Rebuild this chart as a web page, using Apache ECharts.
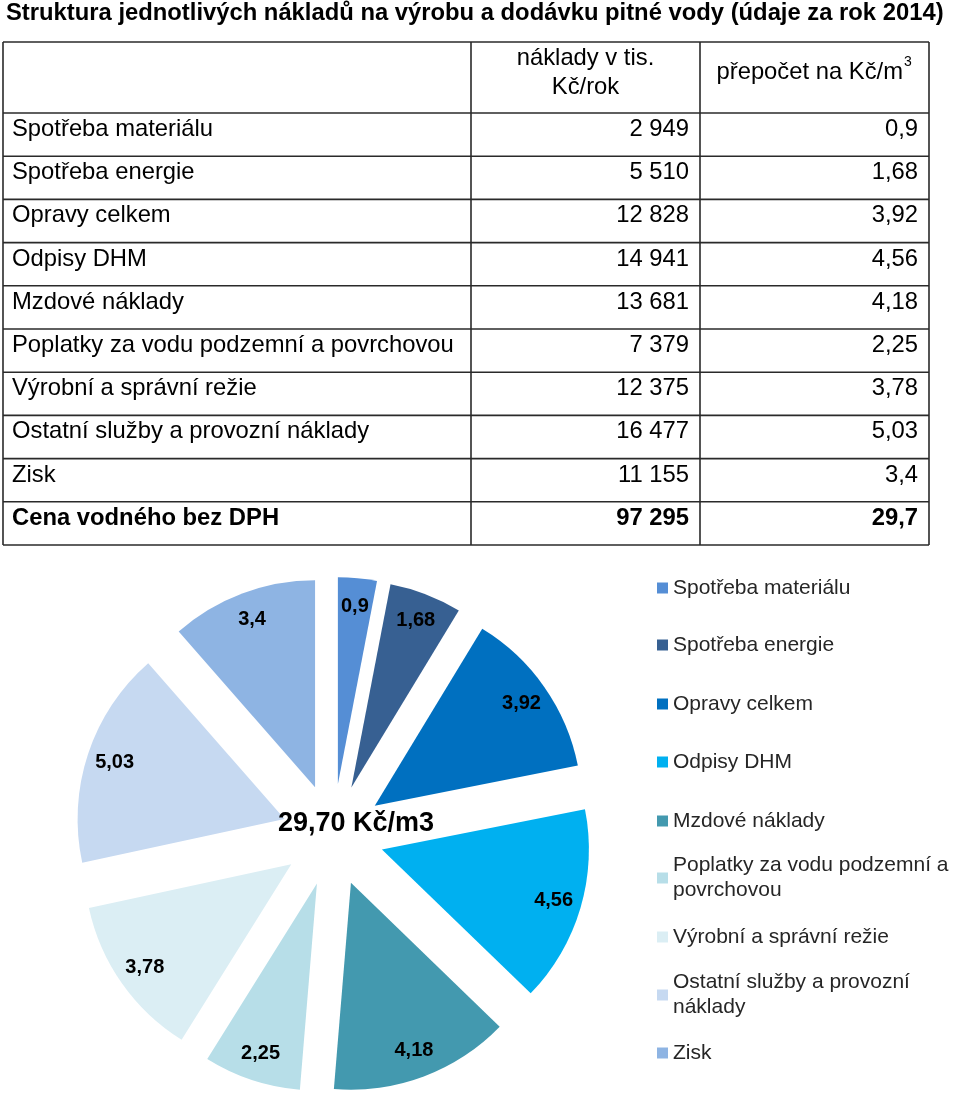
<!DOCTYPE html>
<html>
<head>
<meta charset="utf-8">
<script src="https://cdn.jsdelivr.net/npm/echarts@6/dist/echarts.min.js"></script>
<style>
  html, body { margin: 0; padding: 0; background: #fff; }
  #chart { width: 960px; height: 1094px; }
</style>
</head>
<body>
<div id="chart"></div>
<script>
// ---------- DATA ----------
const titleText = 'Struktura jednotlivých nákladů na výrobu a dodávku pitné vody (údaje za rok 2014)';
const categories = [
  'Spotřeba materiálu',
  'Spotřeba energie',
  'Opravy celkem',
  'Odpisy DHM',
  'Mzdové náklady',
  'Poplatky za vodu podzemní a povrchovou',
  'Výrobní a správní režie',
  'Ostatní služby a provozní náklady',
  'Zisk'
];
const costThousands = [2949, 5510, 12828, 14941, 13681, 7379, 12375, 16477, 11155];
const perM3 = [0.9, 1.68, 3.92, 4.56, 4.18, 2.25, 3.78, 5.03, 3.4];
const totalName = 'Cena vodného bez DPH';
const totalCost = 97295;
const totalPerM3 = 29.7;
const headerCol2 = ['náklady v tis.', 'Kč/rok'];
const headerCol3 = ['přepočet na Kč/m', '3'];
const legendLabels = [
  'Spotřeba materiálu',
  'Spotřeba energie',
  'Opravy celkem',
  'Odpisy DHM',
  'Mzdové náklady',
  'Poplatky za vodu podzemní a\npovrchovou',
  'Výrobní a správní režie',
  'Ostatní služby a provozní\nnáklady',
  'Zisk'
];
const colors = ['#558ED5', '#376092', '#0070C0', '#00B0F0', '#4399AF', '#B7DEE8', '#DBEEF4', '#C6D9F1', '#8EB4E3'];

// ---------- HELPERS ----------
const FONT = '"Liberation Sans", Arial, sans-serif';
const fmtThousands = n => String(n).replace(/\B(?=(\d{3})+(?!\d))/g, ' ');
const fmtDec = v => String(v).replace('.', ',');

// ---------- TABLE (graphic) ----------
const tX0 = 3, tX1 = 471, tX2 = 700, tX3 = 929;
const tY0 = 42, tHeadBottom = 113, rowH = 43.2;
const nRows = categories.length + 1;
const tY1 = tHeadBottom + rowH * nRows;
const lineStyle = { stroke: '#2a2a2a', lineWidth: 1.6 };
const graphics = [];

function hLine(y) { graphics.push({ type: 'line', shape: { x1: tX0, y1: y, x2: tX3, y2: y }, style: lineStyle, silent: true }); }
function vLine(x) { graphics.push({ type: 'line', shape: { x1: x, y1: tY0, x2: x, y2: tY1 }, style: lineStyle, silent: true }); }
function txt(x, y, text, align, opts) {
  opts = opts || {};
  graphics.push({
    type: 'text', x: x, y: y, silent: true,
    style: {
      text: text, fill: '#000', align: align, verticalAlign: 'middle',
      fontSize: opts.size || 23.8, fontWeight: opts.bold ? 'bold' : 'normal', fontFamily: FONT
    }
  });
}

hLine(tY0); hLine(tHeadBottom);
for (let i = 1; i <= nRows; i++) hLine(tHeadBottom + rowH * i);
[tX0, tX1, tX2, tX3].forEach(vLine);

// header
txt((tX1 + tX2) / 2, 58, headerCol2[0], 'center');
txt((tX1 + tX2) / 2, 87, headerCol2[1], 'center');
txt(903, 72, headerCol3[0], 'right');
txt(904, 62, headerCol3[1], 'left', { size: 14 });

// rows
categories.forEach((c, i) => {
  const yc = tHeadBottom + rowH * i + 16.5;
  txt(12, yc, c, 'left');
  txt(689, yc, fmtThousands(costThousands[i]), 'right');
  txt(918, yc, fmtDec(perM3[i]), 'right');
});
{
  const yc = tHeadBottom + rowH * categories.length + 16.5;
  txt(12, yc, totalName, 'left', { bold: true });
  txt(689, yc, fmtThousands(totalCost), 'right', { bold: true });
  txt(918, yc, fmtDec(totalPerM3), 'right', { bold: true });
}

// centre label of the pie
const pieSum = perM3.reduce((a, b) => a + b, 0);
graphics.push({
  type: 'text', x: 356, y: 824, silent: true, z: 100,
  style: {
    text: pieSum.toFixed(2).replace('.', ',') + ' Kč/m3',
    fill: '#000', align: 'center', verticalAlign: 'middle',
    fontSize: 27, fontWeight: 'bold', fontFamily: FONT
  }
});

// ---------- PIE ----------
const pieCenter = [333, 835];
const pieR = 207;
const explode = 51;

const pieData = categories.map((c, i) => ({ name: c, value: perM3[i], selected: true }));

// ---------- LEGENDS (one per item to keep Excel-like spacing) ----------
const legendCenters = [588, 645, 704, 762, 821, 878, 937, 995, 1053];
const legends = categories.map((c, i) => {
  const twoLines = legendLabels[i].indexOf('\n') >= 0;
  return {
    left: 657,
    top: legendCenters[i] - (twoLines ? 37.5 : 12.5),
    orient: 'vertical',
    padding: 0,
    itemWidth: 11,
    itemHeight: 11,
    icon: 'rect',
    selectedMode: false,
    data: [twoLines ? { name: c, textStyle: { padding: [25, 0, 0, 0] } } : c],
    formatter: name => legendLabels[categories.indexOf(name)],
    textStyle: { fontSize: 21, fontFamily: FONT, color: '#262626', lineHeight: 25 }
  };
});

const chart = echarts.init(document.getElementById('chart'), null, { renderer: 'canvas' });
chart.setOption({
  animation: false,
  color: colors,
  title: {
    text: titleText, left: 6, top: 1, padding: 0,
    textStyle: { fontSize: 23.8, fontWeight: 'bold', fontFamily: FONT, color: '#000' }
  },
  legend: legends,
  graphic: graphics,
  series: [
    {
      type: 'pie',
      center: pieCenter,
      radius: pieR,
      startAngle: 90,
      clockwise: true,
      selectedMode: 'multiple',
      selectedOffset: explode,
      avoidLabelOverlap: false,
      label: { show: false },
      labelLine: { show: false },
      emphasis: { disabled: true },
      select: { itemStyle: { borderWidth: 0 } },
      data: pieData
    },
    {
      type: 'pie',
      center: pieCenter,
      radius: [145, pieR],
      startAngle: 90,
      clockwise: true,
      selectedMode: 'multiple',
      selectedOffset: explode,
      avoidLabelOverlap: false,
      silent: true,
      legendHoverLink: false,
      itemStyle: { color: 'rgba(0,0,0,0)' },
      emphasis: { disabled: true },
      select: { itemStyle: { color: 'rgba(0,0,0,0)', borderWidth: 0 }, label: { show: true } },
      label: {
        show: true, position: 'inside', color: '#000',
        fontSize: 20, fontWeight: 'bold', fontFamily: FONT,
        formatter: p => fmtDec(p.value)
      },
      labelLine: { show: false },
      data: pieData.map(d => Object.assign({}, d))
    }
  ]
});
</script>
</body>
</html>
